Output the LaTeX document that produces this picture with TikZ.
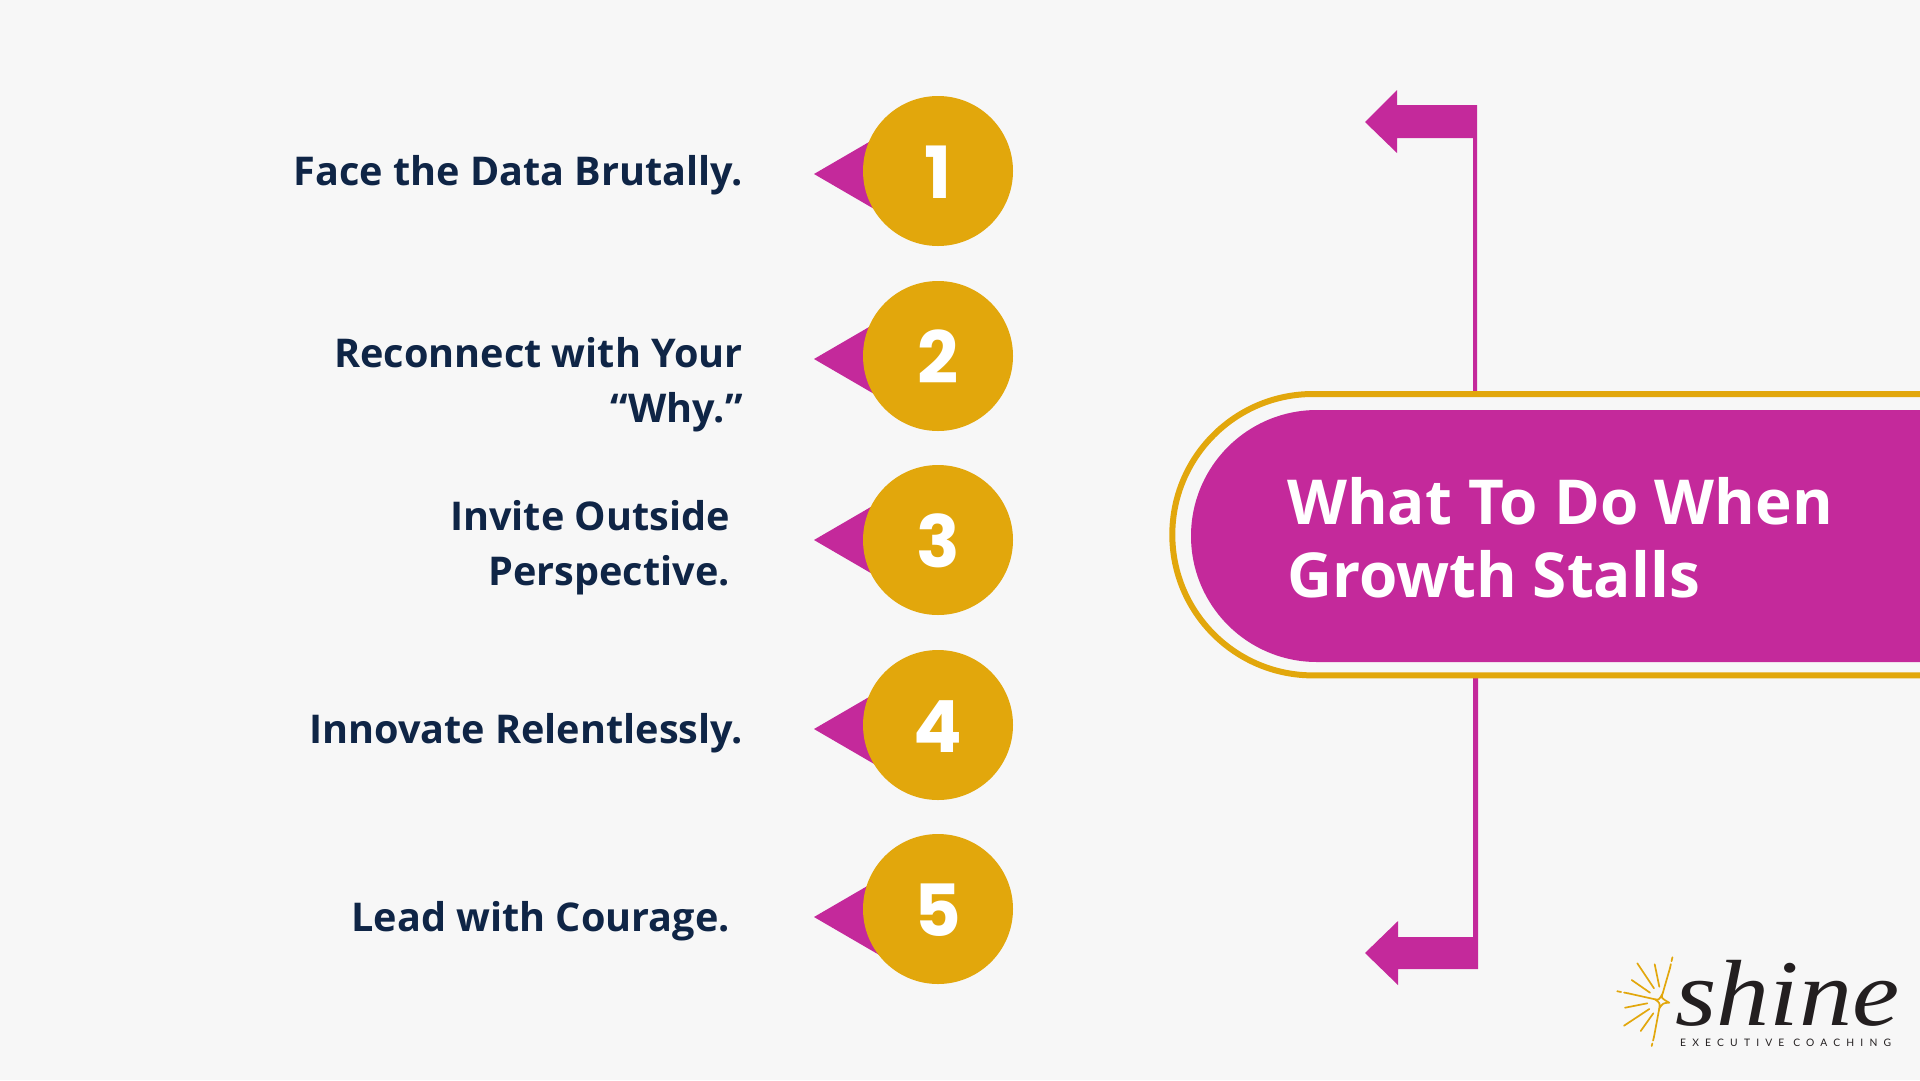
\documentclass[tikz,border=0pt]{standalone}
\usepackage{fontspec}
\setmainfont{Open Sans}
\newfontfamily\numfont{Poppins}
\newfontfamily\logofont[FakeStretch=1.13]{Liberation Serif}
\newfontfamily\subfont{Lato}
\definecolor{pagegrey}{HTML}{F7F7F7}
\definecolor{magenta1}{HTML}{C4299B}
\definecolor{gold1}{HTML}{E2A70C}
\definecolor{navy1}{HTML}{0F2546}
\definecolor{logoblack}{HTML}{231F20}
\tikzset{
  stepnum/.style={circle, fill=gold1, text=white, inner sep=0pt, minimum size=150pt, text height=55pt, text depth=0pt, font=\numfont\bfseries\fontsize{72}{72}\selectfont},
  steptext/.style={inner sep=0pt, align=right, text=navy1, font=\bfseries\fontsize{39.6}{54.5}\selectfont},
  titletext/.style={anchor=base west, inner sep=0pt, text=white, font=\bfseries\fontsize{62}{73}\selectfont},
  ray/.style={gold1, line width=1.7pt, line cap=round}
}
\begin{document}
\begin{tikzpicture}[x=1pt, y=-1pt]
    % Le fond
    \fill[pagegrey] (0,0) rectangle (1920,1080);
    \useasboundingbox (0,0) rectangle (1920,1080);

    % Les fleches
    \fill[magenta1] (1365,122) -- (1397,90) -- (1397,105) -- (1477,105) -- (1477,395) -- (1473,395) -- (1473,138) -- (1397,138) -- (1397,153) -- cycle;
    \fill[magenta1] (1365,953) -- (1398,921) -- (1398,937) -- (1473,937) -- (1473,675) -- (1478,675) -- (1478,969) -- (1398,969) -- (1398,985) -- cycle;

    % Le titre
    \draw[gold1, line width=6pt] (1920,394) -- (1313,394) arc[start angle=270, end angle=90, radius=140.7] -- (1920,675.4);
    \fill[magenta1] (1920,410) -- (1317,410) arc[start angle=270, end angle=90, radius=126] -- (1920,662) -- cycle;
    \node[titletext] (title1) at (1287,524) {What To Do When};
    \node[titletext] (title2) at (1287,597) {Growth Stalls};

    % Les triangles
    \fill[magenta1] (814,174) -- (900,124) -- (900,224) -- cycle;
    \fill[magenta1] (814,359) -- (900,309) -- (900,409) -- cycle;
    \fill[magenta1] (814,540) -- (900,490) -- (900,590) -- cycle;
    \fill[magenta1] (814,729) -- (900,679) -- (900,779) -- cycle;
    \fill[magenta1] (814,917) -- (900,867) -- (900,967) -- cycle;

    % Les cercles
    \node[stepnum] (n1) at (938,171) {1};
    \node[stepnum] (n2) at (938,356) {2};
    \node[stepnum] (n3) at (938,540) {3};
    \node[stepnum] (n4) at (938,725) {4};
    \node[stepnum] (n5) at (938,909) {5};

    % Les textes
    \node[steptext, anchor=base east] (t1) at (743,185) {Face the Data Brutally.};
    \node[steptext, anchor=east] (t2) at (743,384.5) {Reconnect with Your\\“Why.”};
    \node[steptext, anchor=east] (t3) at (730,547.5) {Invite Outside\\Perspective.};
    \node[steptext, anchor=base east] (t4) at (743,743) {Innovate Relentlessly.};
    \node[steptext, anchor=base east] (t5) at (730,931) {Lead with Courage.};

    % Le logo
    \node[anchor=base west, inner sep=0pt, text=logoblack, font=\logofont\itshape\fontsize{94}{94}\selectfont] (shine) at (1675,1025) {shine};
    \node[anchor=base west, inner sep=0pt, text=logoblack, font=\subfont\fontsize{10.3}{11}\selectfont\addfontfeature{LetterSpace=60}] (coaching) at (1680,1046.7) {EXECUTIVE COACHING};
    \draw[gold1, line width=1.7pt, line join=round] (1662.7,993.3) .. controls (1661,998) .. (1669.3,1002.7) .. controls (1663,1003) .. (1659.3,1008.3) .. controls (1660,1003) .. (1655,999.3) .. controls (1659,1000) .. (1662.7,993.3);
    \draw[ray] (1662.7,993.3) -- (1670,968);
    \draw[ray, dash pattern=on 4pt off 3pt] (1670,968) -- (1672.7,956);
    \draw[ray] (1655,999.3) -- (1628,993.3);
    \draw[ray, dash pattern=on 4pt off 3pt] (1628,993.3) -- (1616,991);
    \draw[ray] (1659.3,1008.3) -- (1654,1036.7);
    \draw[ray, dash pattern=on 4pt off 3pt] (1654,1036.7) -- (1651.7,1046);
    \draw[ray] (1654,988.3) -- (1637.3,963.3);
    \draw[ray] (1659.3,986.7) -- (1654.7,964.3);
    \draw[ray] (1650,992.7) -- (1631.7,980);
    \draw[ray] (1647.3,1003.3) -- (1625,1007.7);
    \draw[ray] (1649.3,1009) -- (1624,1025.7);
    \draw[ray] (1653.3,1013.3) -- (1640.7,1031);
\end{tikzpicture}
\end{document}
